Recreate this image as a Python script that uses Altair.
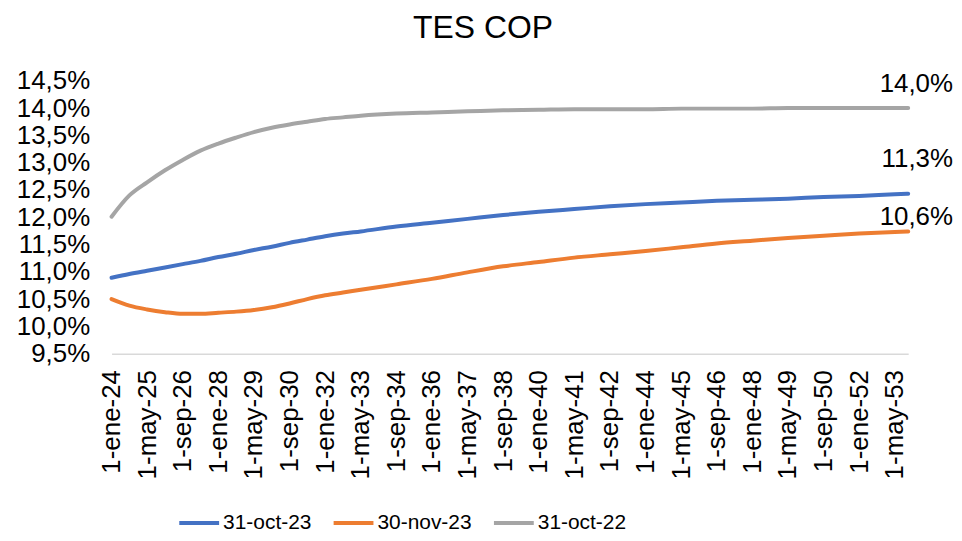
import altair as alt
import pandas as pd

dates = ["2024-01-01", "2024-09-01", "2025-05-01", "2026-01-01", "2026-09-01", "2027-05-01",
         "2028-01-01", "2028-09-01", "2029-05-01", "2030-01-01", "2030-09-01", "2031-05-01",
         "2032-01-01", "2032-09-01", "2033-05-01", "2034-09-01", "2036-01-01", "2037-05-01",
         "2038-09-01", "2040-01-01", "2041-05-01", "2042-09-01", "2044-01-01", "2045-05-01",
         "2046-09-01", "2048-01-01", "2049-05-01", "2050-09-01", "2052-01-01", "2053-05-01",
         "2053-11-01"]

s_oct23 = [10.89, 10.96, 11.02, 11.08, 11.14, 11.20, 11.27, 11.33, 11.40, 11.46, 11.53, 11.59,
           11.65, 11.70, 11.74, 11.83, 11.90, 11.97, 12.04, 12.10, 12.15, 12.20, 12.24, 12.27,
           12.30, 12.32, 12.34, 12.37, 12.39, 12.42, 12.43]
s_nov23 = [10.50, 10.38, 10.31, 10.26, 10.23, 10.23, 10.25, 10.27, 10.30, 10.35, 10.42, 10.50,
           10.57, 10.62, 10.67, 10.77, 10.87, 10.99, 11.10, 11.18, 11.26, 11.32, 11.38, 11.45,
           11.52, 11.57, 11.62, 11.66, 11.70, 11.73, 11.74]
s_oct22 = [12.01, 12.40, 12.64, 12.86, 13.05, 13.22, 13.35, 13.46, 13.56, 13.64, 13.70, 13.75,
           13.80, 13.83, 13.86, 13.90, 13.92, 13.94, 13.96, 13.97, 13.98, 13.98, 13.98, 13.99,
           13.99, 13.99, 14.00, 14.00, 14.00, 14.00, 14.00]

series_names = ["31-oct-23", "30-nov-23", "31-oct-22"]
series_colors = ["#4472C4", "#ED7D31", "#A5A5A5"]
end_labels = ["11,3%", "10,6%", "14,0%"]
y_ticks = [9.5, 10.0, 10.5, 11.0, 11.5, 12.0, 12.5, 13.0, 13.5, 14.0, 14.5]
x_ticks = ["2024-01-01", "2025-05-01", "2026-09-01", "2028-01-01", "2029-05-01", "2030-09-01",
           "2032-01-01", "2033-05-01", "2034-09-01", "2036-01-01", "2037-05-01", "2038-09-01",
           "2040-01-01", "2041-05-01", "2042-09-01", "2044-01-01", "2045-05-01", "2046-09-01",
           "2048-01-01", "2049-05-01", "2050-09-01", "2052-01-01", "2053-05-01"]

rows = []
for name, vals in zip(series_names, [s_oct23, s_nov23, s_oct22]):
    for d, v in zip(dates, vals):
        rows.append({"fecha": d, "serie": name, "tasa": v})
df = pd.DataFrame(rows)

FONT = "Liberation Sans"

def to_dt(s):
    y, m, d = s.split("-")
    return alt.DateTime(year=int(y), month=int(m), date=int(d), utc=True)

x_scale = alt.Scale(type="utc", domain=[to_dt(dates[0]), to_dt(dates[-1])], nice=False)
y_scale = alt.Scale(domain=[9.5, 14.5], nice=False, zero=False)

x_axis = alt.Axis(
    values=[to_dt(t) for t in x_ticks],
    labelExpr="'1-' + ['ene','feb','mar','abr','may','jun','jul','ago','sep','oct','nov','dic'][utcmonth(datum.value)] + '-' + utcFormat(datum.value, '%y')",
    labelAngle=270,
    labelFont=FONT,
    labelFontSize=26,
    labelColor="#000000",
    labelPadding=16,
    labelOverlap=False,
    labelBound=False,
    ticks=False,
    grid=False,
    domainColor="#D9D9D9",
    domainWidth=1.5,
)

y_axis = alt.Axis(
    values=y_ticks,
    labelExpr="replace(format(datum.value, '.1f'), '.', ',') + '%'",
    labelFont=FONT,
    labelFontSize=26,
    labelColor="#000000",
    labelPadding=22,
    labelOverlap=False,
    ticks=False,
    grid=False,
    domain=False,
)

x_enc = alt.X("fecha:T", title=None, scale=x_scale, axis=x_axis)
y_enc = alt.Y("tasa:Q", title=None, scale=y_scale, axis=y_axis)

lines = alt.Chart(df).mark_line(strokeWidth=4, interpolate="monotone", strokeCap="round").encode(
    x=x_enc,
    y=y_enc,
    color=alt.Color(
        "serie:N",
        scale=alt.Scale(domain=series_names, range=series_colors),
        sort=series_names,
        legend=alt.Legend(
            title=None,
            orient="none",
            direction="horizontal",
            legendX=66,
            legendY=422,
            symbolType="stroke",
            symbolSize=1600,
            symbolStrokeWidth=4,
            labelFont=FONT,
            labelFontSize=21,
            labelColor="#000000",
            labelOffset=2,
            columnPadding=14,
            padding=0,
        ),
    ),
)

label_df = pd.DataFrame({
    "fecha": [dates[-1]] * 3,
    "tasa": [s_oct23[-1], s_nov23[-1], s_oct22[-1]],
    "texto": end_labels,
    "serie": series_names,
})

offsets = {"31-oct-23": -35, "30-nov-23": -14, "31-oct-22": -24}
texts = []
for name in series_names:
    texts.append(
        alt.Chart(label_df).transform_filter(alt.datum.serie == name).mark_text(
            align="right", baseline="middle", dx=45, dy=offsets[name],
            font=FONT, fontSize=26, color="#000000"
        ).encode(x=x_enc, y=y_enc, text="texto:N")
    )

chart = alt.layer(lines, *texts).properties(
    width=800,
    height=274,
    title=alt.TitleParams("TES COP", font=FONT, fontSize=32, fontWeight="normal", color="#000000",
                          anchor="middle", dx=-27, offset=23),
    autosize=alt.AutoSizeParams(type="none"),
    padding={"left": 104, "top": 72, "right": 46, "bottom": 179},
).configure_view(stroke=None).configure_axis(labelOverlap=False)

chart.save("out.html", embed_options={"renderer": "svg", "actions": False})
